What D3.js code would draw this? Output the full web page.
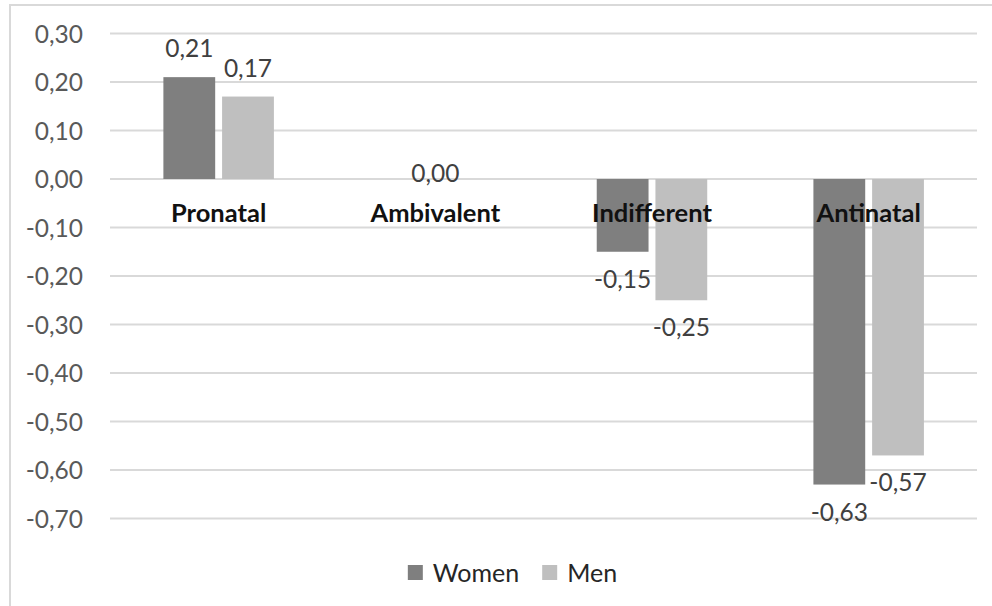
<!DOCTYPE html>
<html>
<head>
<meta charset="utf-8">
<script src="https://cdn.jsdelivr.net/npm/d3@7"></script>
<style>
  html, body { margin: 0; padding: 0; background: #fff; }
  svg { display: block; }
  text { font-family: Lato, "Open Sans", sans-serif; }
</style>
</head>
<body>
<svg id="chart" width="992" height="606"></svg>
<script>
// Attitude categories and mean scores per group
const categories = ["Pronatal", "Ambivalent", "Indifferent", "Antinatal"];
const seriesNames = ["Women", "Men"];
const women = [0.21, 0.00, -0.15, -0.63];
const men = [0.17, 0.00, -0.25, -0.57];
const yTicks = [0.30, 0.20, 0.10, 0.00, -0.10, -0.20, -0.30, -0.40, -0.50, -0.60, -0.70];
const colors = ["#7f7f7f", "#bfbfbf"];

const svg = d3.select("#chart");
const W = 992, H = 606;
// Decimal comma, plain hyphen for negatives
const fmt = v => d3.format(".2f")(v).replace("\u2212", "-").replace(".", ",");

// Chart frame (top and left edges visible)
svg.append("path")
  .attr("d", `M10,${H + 2} L10,5 L${W + 2},5`)
  .attr("fill", "none")
  .attr("stroke", "#d9d9d9")
  .attr("stroke-width", 2);

const y = d3.scaleLinear().domain([-0.7, 0.3]).range([518.5, 33.5]);
const x = d3.scaleBand().domain(categories).range([110.3, 977]).padding(0);

const band = x.bandwidth();
const barW = band * 0.225;
const gap = band * 0.06;
const inner = d3.scaleBand().domain(seriesNames)
  .range([(band - (2 * barW + gap)) / 2, (band + (2 * barW + gap)) / 2])
  .paddingInner(gap / (2 * barW + gap));

// Gridlines
svg.append("g").selectAll("line").data(yTicks).join("line")
  .attr("x1", 110).attr("x2", 977)
  .attr("y1", d => y(d)).attr("y2", d => y(d))
  .attr("stroke", "#d9d9d9").attr("stroke-width", 2);

// Y axis labels
const yAxis = d3.axisLeft(y).tickValues(yTicks).tickFormat(fmt).tickSize(0).tickPadding(0);
const yg = svg.append("g").attr("transform", "translate(83,0)").call(yAxis);
yg.select(".domain").remove();
yg.selectAll("text")
  .attr("font-family", "Lato, sans-serif")
  .attr("font-size", 24.5)
  .attr("fill", "#595959")
  .attr("dy", "0.36em");

// Bars
const rows = categories.map((c, i) => ({ cat: c, vals: [women[i], men[i]] }));
const groups = svg.append("g").selectAll("g").data(rows).join("g")
  .attr("transform", d => `translate(${x(d.cat)},0)`);

groups.selectAll("rect")
  .data(d => d.vals.map((v, j) => ({ name: seriesNames[j], v, j })))
  .join("rect")
  .attr("x", d => inner(d.name))
  .attr("width", inner.bandwidth())
  .attr("y", d => y(Math.max(0, d.v)))
  .attr("height", d => Math.abs(y(d.v) - y(0)))
  .attr("fill", d => colors[d.j]);

// Category labels just under the zero line
svg.append("g").selectAll("text").data(categories).join("text")
  .attr("x", d => x(d) + band / 2)
  .attr("y", y(0) + 43)
  .attr("text-anchor", "middle")
  .attr("font-size", 25.5)
  .attr("font-weight", 700)
  .attr("fill", "#111")
  .text(d => d);

// Value labels
const labels = [];
rows.forEach(r => {
  if (r.vals.every(v => v === 0)) {
    labels.push({ x: x(r.cat) + band / 2, y: y(0) + 3, t: fmt(0) });
  } else {
    r.vals.forEach((v, j) => {
      const cx = x(r.cat) + inner(seriesNames[j]) + inner.bandwidth() / 2;
      const ly = v >= 0 ? y(v) - 20 : y(v) + 36;
      labels.push({ x: cx, y: ly, t: fmt(v) });
    });
  }
});
svg.append("g").selectAll("text").data(labels).join("text")
  .attr("x", d => d.x).attr("y", d => d.y)
  .attr("text-anchor", "middle")
  .attr("font-size", 24.5)
  .attr("fill", "#404040")
  .text(d => d.t);

// Legend
const legend = svg.append("g");
let cursor = 0;
seriesNames.forEach((n, i) => {
  const g = legend.append("g");
  g.append("rect").attr("x", 0).attr("y", 565).attr("width", 15).attr("height", 15).attr("fill", colors[i]);
  const t = g.append("text").attr("x", 25).attr("y", 582)
    .attr("font-size", 25).attr("fill", "#262626").text(n);
  const w = 25 + t.node().getComputedTextLength();
  g.attr("transform", `translate(${cursor},0)`);
  cursor += w + 23;
});
const total = cursor - 23;
legend.attr("transform", `translate(${512.5 - total / 2},0)`);
</script>
</body>
</html>
